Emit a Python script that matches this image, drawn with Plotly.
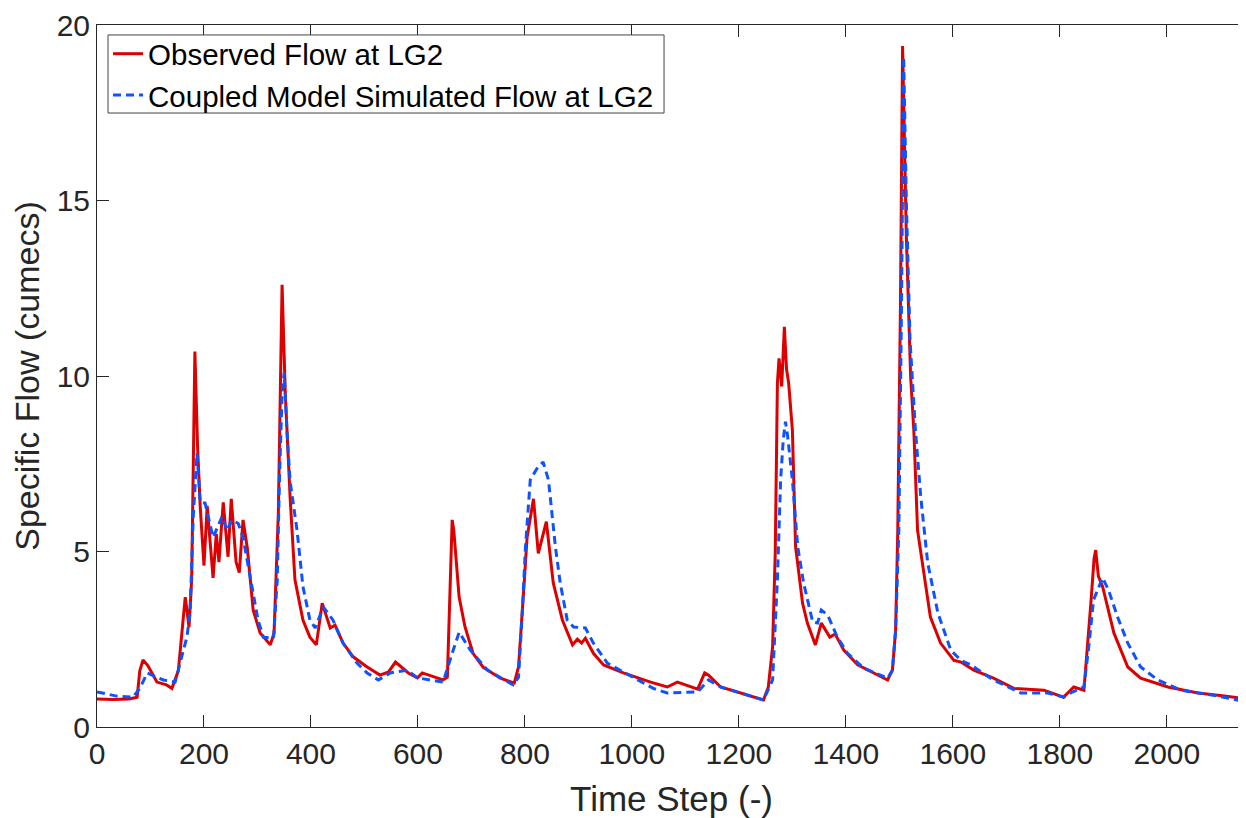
import plotly.graph_objects as go

# Observed flow at LG2 (red)
obs_x = [0, 30, 60, 75, 80, 86, 95, 112, 130, 140, 152, 159, 165, 172, 177, 183, 188, 193, 200, 206,
         217, 223, 228, 236, 245, 251, 260, 266, 273, 281, 292, 305, 324, 331, 339, 346, 352, 361, 370, 385,
         398, 410, 421, 436, 445, 460, 479, 505, 529, 545, 558, 582, 599, 608, 647, 655, 664, 667, 677, 688,
         703, 722, 754, 780, 788, 799, 804, 816, 825, 840, 853, 870, 889, 898, 906, 913, 928, 947, 984, 1035,
         1066, 1085, 1123, 1136, 1143, 1166, 1203, 1246, 1255, 1263, 1268, 1272, 1275, 1280, 1285, 1289, 1293, 1300, 1306, 1319,
         1328, 1343, 1354, 1370, 1380, 1396, 1422, 1452, 1478, 1487, 1493, 1497, 1502, 1506, 1513, 1521, 1527, 1534, 1545, 1558,
         1577, 1602, 1615, 1639, 1676, 1714, 1770, 1807, 1826, 1845, 1858, 1864, 1867, 1872, 1880, 1901, 1927, 1951, 2002, 2058,
         2100, 2148]
obs_y = [0.8, 0.78, 0.8, 0.85, 1.6, 1.91, 1.75, 1.28, 1.2, 1.1, 1.6, 2.76, 3.7, 2.85, 4.2, 10.7, 8.0, 6.27, 4.6, 6.3,
         4.25, 5.5, 4.7, 6.4, 4.85, 6.5, 4.7, 4.4, 5.9, 5.1, 3.33, 2.68, 2.34, 2.68, 6.1, 12.6, 9.5, 6.55, 4.2, 3.05,
         2.56, 2.34, 3.53, 2.82, 2.9, 2.39, 2.0, 1.71, 1.48, 1.57, 1.85, 1.54, 1.4, 1.54, 1.34, 1.42, 5.9, 5.6, 3.7, 2.85,
         2.1, 1.7, 1.39, 1.25, 1.71, 4.2, 5.4, 6.5, 4.95, 5.85, 4.1, 3.05, 2.34, 2.5, 2.39, 2.53, 2.1, 1.77, 1.54, 1.28,
         1.14, 1.28, 1.08, 1.54, 1.48, 1.14, 0.97, 0.77, 1.14, 2.28, 5.0, 9.8, 10.5, 9.7, 11.4, 10.2, 9.8, 8.46, 5.13, 3.53,
         2.96, 2.34, 2.96, 2.56, 2.65, 2.19, 1.77, 1.54, 1.34, 1.62, 2.76, 5.6, 12.0, 19.4, 14.0, 10.0, 8.46, 5.6, 4.4, 3.13,
         2.39, 1.9, 1.85, 1.62, 1.39, 1.1, 1.05, 0.85, 1.14, 1.05, 3.53, 4.8, 5.04, 4.3, 4.0, 2.68, 1.71, 1.39, 1.14, 0.97,
         0.9, 0.8]

# Coupled model simulated flow at LG2 (blue dashed)
sim_x = [0, 37, 67, 80, 94, 124, 146, 155, 168, 174, 180, 187, 193, 202, 217, 234, 243, 252, 264, 273,
         286, 301, 311, 330, 337, 341, 346, 350, 355, 361, 374, 385, 398, 408, 423, 441, 460, 486, 505, 526,
         548, 580, 599, 647, 664, 677, 698, 730, 778, 788, 795, 801, 810, 822, 834, 844, 857, 866, 879, 891,
         913, 928, 954, 1003, 1040, 1066, 1123, 1143, 1166, 1246, 1263, 1272, 1278, 1283, 1287, 1291, 1300, 1310, 1321, 1338,
         1347, 1354, 1366, 1384, 1403, 1433, 1478, 1487, 1493, 1499, 1504, 1508, 1513, 1520, 1530, 1540, 1553, 1572, 1596, 1615,
         1633, 1676, 1727, 1777, 1807, 1820, 1845, 1854, 1863, 1880, 1891, 1908, 1927, 1951, 1983, 2026, 2090, 2148]
sim_y = [1.0, 0.88, 0.85, 1.1, 1.54, 1.34, 1.28, 1.82, 2.56, 3.25, 6.0, 7.8, 6.4, 6.38, 5.4, 6.0, 5.6, 5.9, 5.8, 5.4,
         4.27, 3.05, 2.56, 2.53, 4.2, 7.0, 9.5, 10.1, 8.46, 7.0, 5.6, 4.0, 3.05, 2.82, 3.42, 3.05, 2.39, 1.82, 1.54, 1.34,
         1.54, 1.62, 1.4, 1.28, 2.1, 2.7, 2.19, 1.62, 1.2, 1.42, 3.25, 5.13, 7.04, 7.35, 7.55, 7.04, 5.13, 4.1, 3.05, 2.85,
         2.82, 2.39, 1.82, 1.42, 1.1, 0.97, 1.0, 1.34, 1.14, 0.77, 1.34, 4.2, 7.04, 8.2, 8.7, 8.3, 7.04, 5.13, 4.1, 2.99,
         2.96, 3.33, 3.19, 2.56, 2.1, 1.68, 1.39, 1.62, 2.76, 5.6, 12.0, 19.1, 15.0, 11.0, 8.46, 6.55, 4.67, 3.25, 2.19, 1.9,
         1.77, 1.34, 0.97, 0.97, 0.85, 0.97, 1.14, 2.28, 3.62, 4.25, 3.9, 3.13, 2.39, 1.71, 1.34, 1.05, 0.9, 0.72]

x_ticks = [0, 200, 400, 600, 800, 1000, 1200, 1400, 1600, 1800, 2000]
y_ticks = [0, 5, 10, 15, 20]

FONT = "Liberation Sans, Arial, sans-serif"
AX = "#262626"

fig = go.Figure()
fig.add_trace(go.Scatter(x=obs_x, y=obs_y, mode="lines", name="Observed Flow at LG2",
                         line=dict(color="#DD0000", width=3)))
fig.add_trace(go.Scatter(x=sim_x, y=sim_y, mode="lines", name="Coupled Model Simulated Flow at LG2",
                         line=dict(color="#0F52FF", width=3, dash="8px,5px")))

# legend frame drawn as a paper-space box (tighter than plotly's own legend padding)
fig.add_shape(type="rect", xref="paper", yref="paper",
              x0=0.0096, x1=0.4935, y0=0.8746, y1=0.9858,
              line=dict(color="#444", width=1), fillcolor="white", layer="above")

fig.update_layout(
    width=1238, height=810, autosize=False,
    margin=dict(l=89, r=0, t=17, b=91),
    paper_bgcolor="white", plot_bgcolor="white",
    font=dict(family=FONT, color=AX, size=30),
    legend=dict(x=0.0096, y=0.9957, xanchor="left", yanchor="top",
                bgcolor="rgba(0,0,0,0)", borderwidth=0,
                font=dict(size=29.5, color="black"), tracegroupgap=0,
                itemwidth=30),
    showlegend=True,
)
fig.update_xaxes(range=[0, 2148], tickvals=x_ticks, ticktext=[str(v) for v in x_ticks],
                 showgrid=False, zeroline=False, showline=True, linecolor=AX, linewidth=1,
                 mirror="ticks", ticks="inside", ticklen=12, tickcolor=AX,
                 tickfont=dict(size=30, color=AX),
                 title=dict(text="Time Step (-)", font=dict(size=35, color=AX), standoff=17))
fig.update_yaxes(range=[0, 20], tickvals=y_ticks, ticktext=[str(v) for v in y_ticks],
                 showgrid=False, zeroline=False, showline=True, linecolor=AX, linewidth=1,
                 ticks="inside", ticklen=12, tickcolor=AX,
                 tickfont=dict(size=30, color=AX),
                 title=dict(text="Specific Flow (cumecs)", font=dict(size=34, color=AX), standoff=10))

fig.write_html("out.html")
